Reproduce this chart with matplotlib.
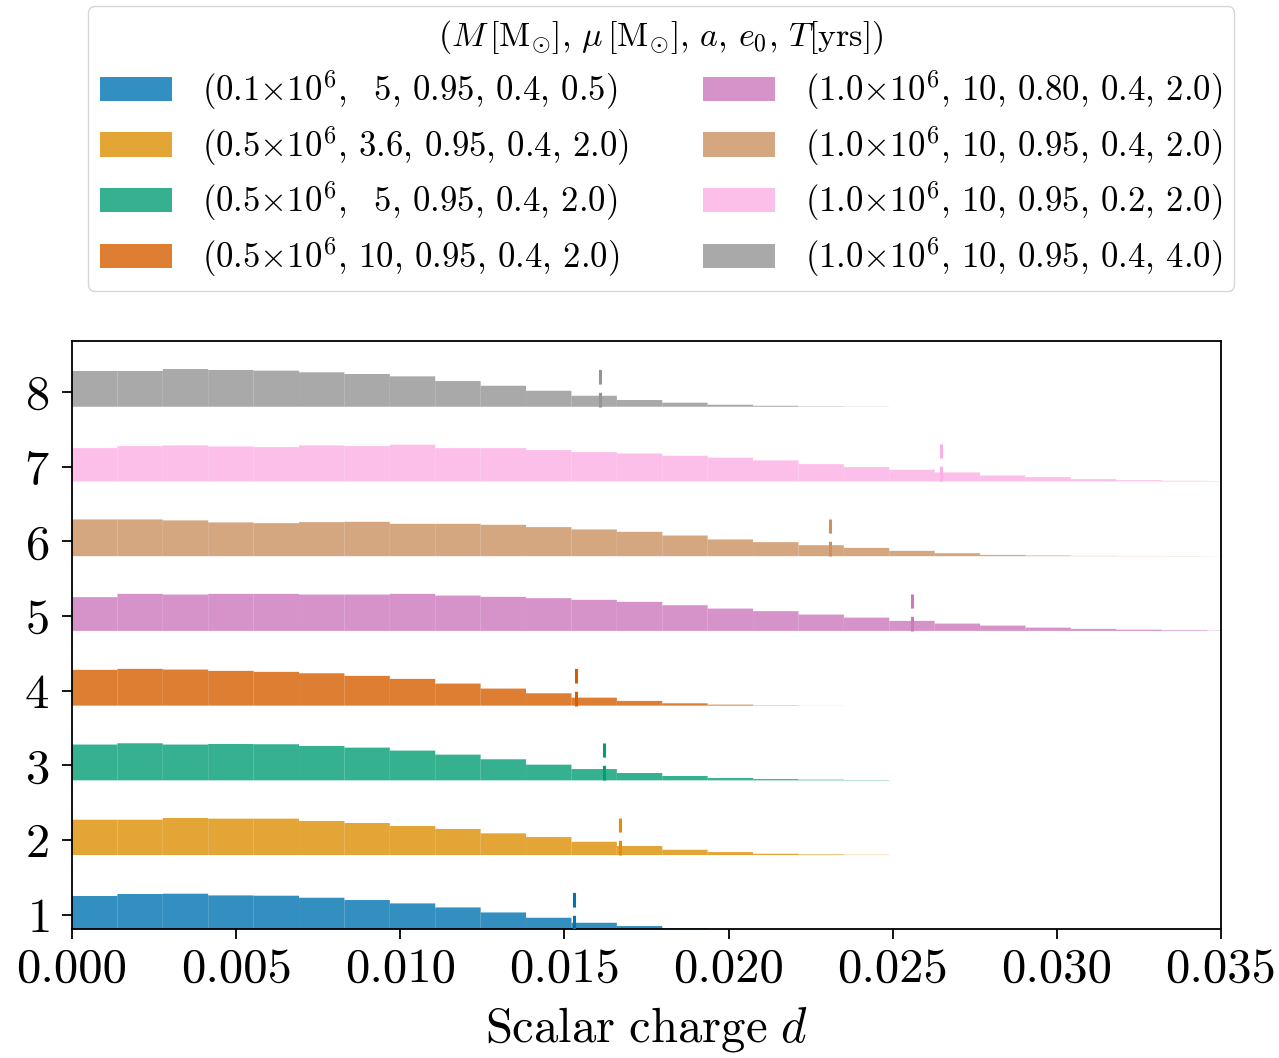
import matplotlib
matplotlib.use('Agg')
import matplotlib.pyplot as plt
import numpy as np

plt.rcParams['font.family'] = 'serif'
plt.rcParams['font.serif'] = ['cmr10']
plt.rcParams['mathtext.fontset'] = 'cm'
plt.rcParams['axes.formatter.use_mathtext'] = True

# largeur commune des classes (valeurs de d)
BIN_WIDTH = 0.001383

# hauteurs des histogrammes (unites de l'axe y)
h_1 = [0.452, 0.479, 0.483, 0.460, 0.456, 0.429, 0.398, 0.353, 0.299, 0.232,
       0.161, 0.094, 0.050, 0.020, 0.004]
h_2 = [0.473, 0.473, 0.496, 0.487, 0.487, 0.456, 0.429, 0.389, 0.349, 0.291,
       0.241, 0.178, 0.121, 0.071, 0.040, 0.017, 0.009, 0.004]
h_3 = [0.479, 0.496, 0.479, 0.487, 0.483, 0.460, 0.438, 0.398, 0.344, 0.282,
       0.210, 0.151, 0.098, 0.058, 0.031, 0.017, 0.009, 0.004]
h_4 = [0.479, 0.492, 0.483, 0.465, 0.452, 0.433, 0.398, 0.358, 0.295, 0.228,
       0.165, 0.107, 0.063, 0.031, 0.013, 0.004, 0.001]
h_5 = [0.452, 0.496, 0.487, 0.496, 0.496, 0.487, 0.487, 0.496, 0.473, 0.456,
       0.438, 0.416, 0.389, 0.344, 0.299, 0.264, 0.219, 0.178, 0.134, 0.098,
       0.071, 0.044, 0.027, 0.017, 0.009, 0.004]
h_6 = [0.492, 0.492, 0.479, 0.452, 0.442, 0.456, 0.460, 0.433, 0.433, 0.420,
       0.389, 0.358, 0.326, 0.277, 0.224, 0.188, 0.147, 0.111, 0.071, 0.040,
       0.017, 0.009, 0.004, 0.003, 0.002, 0.001]
h_7 = [0.446, 0.473, 0.483, 0.469, 0.460, 0.483, 0.473, 0.492, 0.446, 0.446,
       0.420, 0.393, 0.375, 0.344, 0.318, 0.282, 0.232, 0.192, 0.157, 0.121,
       0.080, 0.058, 0.031, 0.017, 0.009, 0.004]
h_8 = [0.479, 0.479, 0.505, 0.492, 0.483, 0.461, 0.438, 0.407, 0.344, 0.281,
       0.214, 0.147, 0.090, 0.054, 0.027, 0.013, 0.005, 0.002]

# position des traits verticaux (tirets)
d_marks = [0.01529, 0.01670, 0.01621, 0.01534, 0.02560, 0.02310, 0.02646, 0.01607]

colors = ['#0173b2', '#de8f05', '#029e73', '#d55e00',
          '#cc78bc', '#ca9161', '#fbafe4', '#949494']

X = r'$\times$10$^6$'
labels = [
    '(0.1' + X + r', $\ \,$5, 0.95, 0.4, 0.5)',
    '(0.5' + X + ', 3.6, 0.95, 0.4, 2.0)',
    '(0.5' + X + r', $\ \,$5, 0.95, 0.4, 2.0)',
    '(0.5' + X + ', 10, 0.95, 0.4, 2.0)',
    '(1.0' + X + ', 10, 0.80, 0.4, 2.0)',
    '(1.0' + X + ', 10, 0.95, 0.4, 2.0)',
    '(1.0' + X + ', 10, 0.95, 0.2, 2.0)',
    '(1.0' + X + ', 10, 0.95, 0.4, 4.0)',
]
legend_title = (r'$(M\,[\mathrm{M}_{\odot}],\, \mu\,[\mathrm{M}_{\odot}],\, a,\, e_0,\, '
                r'T[\mathrm{yrs}])$')

heights = [h_1, h_2, h_3, h_4, h_5, h_6, h_7, h_8]

fig = plt.figure(figsize=(12.79, 10.58), dpi=100)
ax = fig.add_axes([0.0563, 0.1219, 0.8984, 0.5558])

handles = []
for i, (h, c, d) in enumerate(zip(heights, colors, d_marks)):
    row = i + 1
    left = np.arange(len(h)) * BIN_WIDTH
    bars = ax.bar(left, h, width=BIN_WIDTH, bottom=row - 0.2, align='edge',
                  color=c, alpha=0.8, linewidth=0, snap=False, label=labels[i])
    handles.append(bars)
    ax.vlines(d, row - 0.2, row + 0.3, colors=c, linewidth=2.2,
              linestyles=(0, (4.8, 2.7)), zorder=3)

ax.set_xlim(0, 0.035)
ax.set_ylim(0.81, 8.68)
ax.set_yticks(range(1, 9))
ax.set_xticks(np.arange(0, 0.0351, 0.005))
ax.set_xticklabels(['0.000', '0.005', '0.010', '0.015', '0.020', '0.025', '0.030', '0.035'])
ax.tick_params(labelsize=35, width=1.3, length=7.5)
ax.tick_params(axis='x', pad=6)
ax.tick_params(axis='y', pad=9)
for s in ax.spines.values():
    s.set_linewidth(1.3)
ax.set_xlabel(r'$\mathrm{Scalar\ charge}\ d$', fontsize=35, labelpad=9)

fig.legend(handles, labels,
           loc='upper center', bbox_to_anchor=(0.517, 0.994), ncol=2,
           fontsize=25, title=legend_title, title_fontsize=24.5,
           handlelength=2.07, handleheight=0.69, handletextpad=0.86,
           columnspacing=2.13, labelspacing=0.34, borderpad=0.35,
           borderaxespad=0)

fig.savefig('out.png', dpi=100)
